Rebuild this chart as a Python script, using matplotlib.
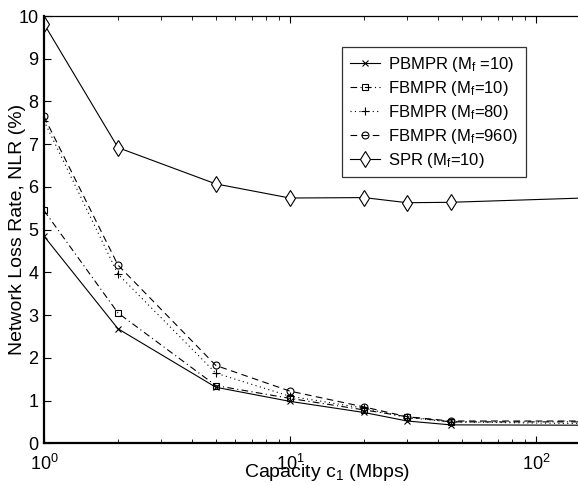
import numpy as np
import matplotlib.pyplot as plt

plt.rcParams["font.family"] = ["Liberation Sans", "DejaVu Sans"]
plt.rcParams["mathtext.fontset"] = "custom"
plt.rcParams["mathtext.rm"] = "Liberation Sans"
plt.rcParams["mathtext.it"] = "Liberation Sans:italic"

capacity = [1, 2, 5, 10, 20, 30, 45, 200]
pbmpr_10 = [4.85, 2.68, 1.31, 0.98, 0.72, 0.52, 0.43, 0.42]
fbmpr_10 = [5.45, 3.05, 1.35, 1.05, 0.78, 0.62, 0.50, 0.50]
fbmpr_80 = [7.55, 3.96, 1.64, 1.10, 0.82, 0.60, 0.50, 0.45]
fbmpr_960 = [7.65, 4.17, 1.82, 1.22, 0.85, 0.62, 0.52, 0.52]
spr_10 = [9.82, 6.92, 6.07, 5.74, 5.75, 5.63, 5.64, 5.76]

labels = [
    r"PBMPR (M$_\mathregular{f}$ =10)",
    r"FBMPR (M$_\mathregular{f}$=10)",
    r"FBMPR (M$_\mathregular{f}$=80)",
    r"FBMPR (M$_\mathregular{f}$=960)",
    r"SPR (M$_\mathregular{f}$=10)",
]

fig = plt.figure(figsize=(5.78, 4.86), dpi=100)
# axes run past the right edge of the figure, as in the cropped original
ax = fig.add_axes([0.076, 0.088, 1.064, 0.879])

ax.plot(capacity, pbmpr_10, color="black", linestyle="-", linewidth=0.8,
        marker="x", markersize=5, mew=0.8, label=labels[0])
ax.plot(capacity, fbmpr_10, color="black", linestyle=(0, (6, 3, 1, 3)), linewidth=0.8,
        marker="s", markersize=5, mfc="none", mew=0.8, label=labels[1])
ax.plot(capacity, fbmpr_80, color="black", linestyle=(0, (1, 3)), linewidth=0.8,
        marker="+", markersize=6, mew=0.8, label=labels[2])
ax.plot(capacity, fbmpr_960, color="black", linestyle=(0, (6, 4)), linewidth=0.8,
        marker="o", markersize=5, mfc="none", mew=0.8, label=labels[3])
ax.plot(capacity, spr_10, color="black", linestyle="-", linewidth=0.8,
        marker="d", markersize=8.5, mfc="white", mew=0.8, label=labels[4])

ax.set_xscale("log")
ax.set_xlim(1, 10 ** 2.5)
ax.set_ylim(0, 10)
ax.set_yticks(range(0, 11))

ax.tick_params(which="both", direction="in", top=True, right=False, labelsize=13)
ax.tick_params(axis="x", pad=8)
ax.tick_params(axis="y", pad=4)
ax.tick_params(which="major", length=5)
ax.tick_params(which="minor", length=3)

ax.spines["right"].set_visible(False)
ax.spines["left"].set_linewidth(1.6)
ax.spines["bottom"].set_linewidth(1.6)
ax.spines["top"].set_linewidth(0.9)

ax.set_xlabel(r"Capacity c$_\mathregular{1}$ (Mbps)", fontsize=14)
ax.set_ylabel("Network Loss Rate, NLR (%)", fontsize=14)
ax.xaxis.set_label_coords(0.46, -0.045)
ax.yaxis.set_label_coords(-0.029, 0.5)

leg = ax.legend(loc="upper left", bbox_to_anchor=(0.485, 0.927), borderaxespad=0,
                fontsize=12, frameon=True, fancybox=False, edgecolor="black",
                handlelength=1.8, handletextpad=0.5, labelspacing=0.3,
                borderpad=0.45)
leg.get_frame().set_linewidth(0.9)

fig.savefig("out.png", dpi=100)
